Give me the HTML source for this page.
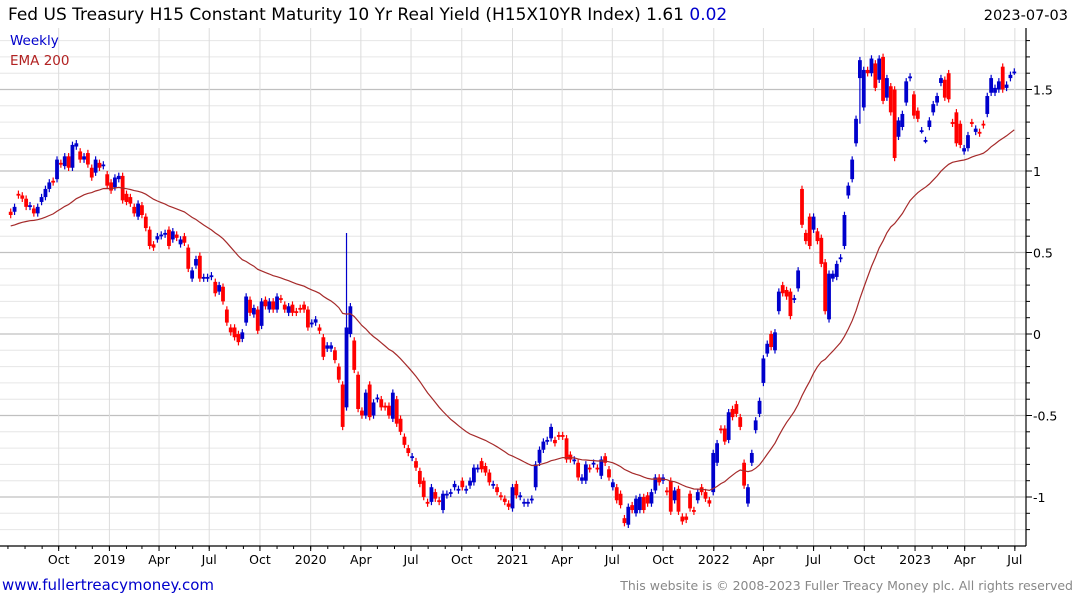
<!DOCTYPE html>
<html><head><meta charset="utf-8">
<style>
body{margin:0;background:#fff;font-family:"DejaVu Sans",sans-serif;}
#wrap{position:relative;width:1075px;height:600px;overflow:hidden;}
svg text{font-family:"DejaVu Sans","Liberation Sans",sans-serif;}
</style></head>
<body>
<div id="wrap">
<svg id="chart" width="1075" height="600">
<g id="grid"></g>
<g id="marks"></g>
<g id="ema"></g>
<g id="axes"></g>
<text x="8" y="20" font-size="17" fill="#000">Fed US Treasury H15 Constant Maturity 10 Yr Real Yield (H15X10YR Index) 1.61 <tspan fill="#0000cc">0.02</tspan></text>
<text x="1068" y="20" font-size="14.5" fill="#000" text-anchor="end">2023-07-03</text>
<text x="10" y="45" font-size="13.5" fill="#0000cc">Weekly</text>
<text x="10" y="65" font-size="13.5" fill="#b22222">EMA 200</text>
<text x="2" y="590" font-size="15" fill="#0000cc">www.fullertreacymoney.com</text>
<text x="1073" y="590" font-size="12.5" fill="#888" text-anchor="end">This website is © 2008-2023 Fuller Treacy Money plc. All rights reserved</text>
</svg>
</div>
<script>
const opens=[0.75,0.75,0.86,0.85,0.83,0.78,0.77,0.74,0.81,0.84,0.89,0.94,0.95,1.05,1.03,1.09,1.02,1.15,1.12,1.07,1.11,1.02,0.99,1.05,1.03,0.98,0.93,0.90,0.95,0.97,0.86,0.84,0.78,0.72,0.79,0.72,0.64,0.55,0.58,0.60,0.61,0.64,0.58,0.61,0.55,0.60,0.53,0.34,0.42,0.48,0.34,0.34,0.35,0.32,0.26,0.29,0.15,0.04,0.04,0.00,-0.03,0.07,0.21,0.12,0.15,0.05,0.21,0.15,0.20,0.15,0.22,0.18,0.13,0.18,0.14,0.16,0.18,0.15,0.06,0.07,0.04,-0.02,-0.09,-0.09,-0.10,
-0.20,-0.31,-0.45,0.00,-0.04,-0.25,-0.47,-0.50,-0.31,-0.50,-0.40,-0.40,-0.44,-0.44,-0.52,-0.40,-0.52,-0.63,-0.70,-0.76,-0.78,-0.84,-0.90,-1.03,-1.03,-0.97,-1.02,-1.08,-0.99,-0.98,-0.94,-0.96,-0.90,-0.96,-0.93,-0.91,-0.83,-0.78,-0.81,-0.85,-0.93,-0.94,-0.99,-1.01,-1.04,-1.07,-0.92,-1.00,-1.04,-1.04,-1.02,-0.94,-0.79,-0.71,-0.66,-0.64,-0.65,-0.62,-0.62,-0.64,-0.74,-0.78,-0.79,-0.90,-0.90,-0.82,-0.80,-0.82,-0.87,-0.75,-0.83,-0.94,-0.94,-0.98,-1.13,-1.17,-1.05,-1.10,-1.08,-1.00,-0.99,-1.04,-0.96,-0.88,-0.90,-0.96,-0.90,-1.02,-0.95,-1.12,-1.12,-0.98,-1.08,-1.02,-0.94,-0.97,-1.02,-0.97,-0.79,
-0.58,-0.58,-0.65,-0.46,-0.43,-0.51,-0.79,-1.04,-0.79,-0.59,-0.49,-0.30,-0.12,0.00,-0.10,0.14,0.30,0.27,0.26,0.21,0.28,0.89,0.62,0.72,0.64,0.63,0.59,0.44,0.09,0.34,0.35,0.46,0.54,0.85,0.95,1.17,1.57,1.39,1.62,1.60,1.66,1.56,1.70,1.45,1.52,1.50,1.21,1.27,1.42,1.57,1.47,1.37,1.25,1.19,1.27,1.36,1.42,1.54,1.56,1.60,1.30,1.36,1.29,1.12,1.14,1.30,1.24,1.24,1.29,1.35,1.48,1.48,1.50,1.64,1.51,1.57,1.61];
const closes=[0.73,0.78,0.85,0.83,0.78,0.79,0.74,0.78,0.84,0.89,0.93,0.93,1.07,1.04,1.09,1.02,1.16,1.17,1.07,1.09,1.04,0.96,1.07,1.02,1.04,0.91,0.88,0.96,0.97,0.82,0.81,0.80,0.74,0.80,0.73,0.65,0.54,0.53,0.60,0.61,0.62,0.54,0.63,0.59,0.58,0.56,0.40,0.39,0.46,0.34,0.35,0.35,0.36,0.25,0.30,0.20,0.07,0.01,-0.02,-0.05,0.01,0.23,0.13,0.16,0.02,0.20,0.17,0.20,0.15,0.23,0.21,0.15,0.17,0.13,0.13,0.15,0.15,0.04,0.07,0.09,0.02,-0.14,-0.07,-0.07,-0.16,
-0.28,-0.57,0.04,0.17,-0.22,-0.46,-0.50,-0.36,-0.51,-0.42,-0.39,-0.45,-0.45,-0.50,-0.36,-0.55,-0.60,-0.68,-0.73,-0.75,-0.82,-0.92,-1.00,-1.04,-0.94,-1.01,-1.03,-0.98,-0.98,-0.97,-0.92,-0.95,-0.94,-0.95,-0.90,-0.82,-0.82,-0.83,-0.85,-0.91,-0.92,-0.97,-1.00,-1.03,-1.06,-0.94,-0.99,-0.99,-1.03,-1.03,-1.01,-0.80,-0.71,-0.66,-0.65,-0.57,-0.67,-0.63,-0.63,-0.77,-0.77,-0.77,-0.88,-0.88,-0.80,-0.83,-0.79,-0.83,-0.77,-0.79,-0.88,-0.91,-1.02,-1.05,-1.16,-1.06,-1.08,-1.01,-1.00,-1.08,-1.04,-0.97,-0.88,-0.91,-0.88,-0.97,-1.09,-0.96,-1.09,-1.15,-1.14,-1.07,-1.09,-0.97,-0.97,-1.01,-1.04,-0.73,-0.67,
-0.59,-0.66,-0.48,-0.51,-0.49,-0.57,-0.93,-0.94,-0.73,-0.53,-0.41,-0.15,-0.06,-0.08,0.01,0.26,0.25,0.23,0.11,0.22,0.39,0.67,0.57,0.54,0.72,0.57,0.43,0.14,0.37,0.37,0.43,0.47,0.73,0.91,1.07,1.32,1.68,1.62,1.60,1.69,1.51,1.69,1.43,1.57,1.36,1.08,1.31,1.35,1.55,1.58,1.34,1.32,1.25,1.19,1.31,1.41,1.46,1.57,1.45,1.44,1.29,1.17,1.16,1.14,1.22,1.29,1.26,1.23,1.28,1.46,1.57,1.51,1.55,1.50,1.53,1.59,1.61];
const wickHighIdx=[87];
const wickHighVal=[0.62];
const wickLowIdx=[220];
const wickLowVal=[1.29];
const emaStart=0.66;
const emaPeriod=40;
const yTicks=[-1,-0.5,0,0.5,1,1.5];
const yTickLabels=["-1","-0.5","0","0.5","1","1.5"];
const startDate="2018-07-06";
const xTickDates=["2018-10-01","2019-01-01","2019-04-01","2019-07-01","2019-10-01","2020-01-01","2020-04-01","2020-07-01","2020-10-01","2021-01-01","2021-04-01","2021-07-01","2021-10-01","2022-01-01","2022-04-01","2022-07-01","2022-10-01","2023-01-01","2023-04-01","2023-07-01"];
const xTickLabels=["Oct","2019","Apr","Jul","Oct","2020","Apr","Jul","Oct","2021","Apr","Jul","Oct","2022","Apr","Jul","Oct","2023","Apr","Jul"];

const NS="http://www.w3.org/2000/svg";
const PL=0,PR=1026,PT=28,PB=546;
const X0=10.7,STEP=3.86;
function xScale(i){return X0+i*STEP;}
function yScale(v){return 334-v*163;}
function dateToIdx(d){return (new Date(d)-new Date(startDate))/(7*864e5);}
function mk(tag,attrs,parent){const e=document.createElementNS(NS,tag);for(const k in attrs)e.setAttribute(k,attrs[k]);parent.appendChild(e);return e;}
const grid=document.getElementById('grid'),marks=document.getElementById('marks'),emaG=document.getElementById('ema'),axes=document.getElementById('axes');

for(let k=-12;k<=18;k++){const v=k/10;const y=yScale(v);if(y<PT||y>PB)continue;
 const major=(k%5===0);
 const l=mk('line',{x1:PL,x2:PR,y1:y,y2:y,stroke:major?'#c0c0c0':'#e6e6e6','stroke-width':major?1.3:1},grid);
 
 
}
xTickDates.forEach((d,j)=>{const x=xScale(dateToIdx(d));
 const l=mk('line',{x1:x,x2:x,y1:PT,y2:PB,stroke:'#dcdcdc','stroke-width':1},grid);
 
 
 const t=mk('line',{x1:x,x2:x,y1:PB,y2:PB+5,stroke:'#000'},axes);
 
 
 const tx=mk('text',{x:x,y:564,'font-size':12.5,'text-anchor':'middle',fill:'#000'},axes);
 tx.textContent=xTickLabels[j];
 
 
});
for(let m=0;m<62;m++){const dt=new Date(Date.UTC(2018,6+m,1));const x=xScale(dateToIdx(dt.toISOString().slice(0,10)));if(x<PL||x>PR)continue;
 const t=mk('line',{x1:x,x2:x,y1:PB,y2:PB+3,stroke:'#000'},axes);
 
 
}
let a=mk('line',{x1:PL,x2:PR,y1:PB,y2:PB,stroke:'#000','stroke-width':1.2},axes);


a=mk('line',{x1:PR,x2:PR,y1:PT,y2:PB,stroke:'#000','stroke-width':1.2},axes);


for(let k=-12;k<=18;k++){const y=yScale(k/10);if(y<PT||y>PB)continue;
 const t=mk('line',{x1:PR,x2:PR+(k%5===0?6:4),y1:y,y2:y,stroke:'#000'},axes);
 
 
}
yTicks.forEach((v,j)=>{const t=mk('text',{x:1033,y:yScale(v)+5,'font-size':12.5,fill:'#000'},axes);
 t.textContent=yTickLabels[j];
 
 
});
for(let i=0;i<closes.length;i++){
 const o=opens[i],c=closes[i],up=c>=o,col=up?'#0000cc':'#ff0000';
 const x=xScale(i);
 let hi=Math.max(o,c)+0.02,lo=Math.min(o,c)-0.02;
 const hIdx=wickHighIdx.indexOf(i);if(hIdx>=0)hi=wickHighVal[hIdx];
 const lIdx=wickLowIdx.indexOf(i);if(lIdx>=0)lo=wickLowVal[lIdx];
 const w=mk('line',{x1:x,x2:x,y1:yScale(hi),y2:yScale(lo),stroke:col,'stroke-width':1.2},marks);
 
 
 const yt=yScale(Math.max(o,c)),yb=yScale(Math.min(o,c));
 const r=mk('rect',{x:x-1.9,y:yt,width:3.8,height:Math.max(1.8,yb-yt),fill:col},marks);
 
 
}
let e=emaStart,k=2/(emaPeriod+1),pts=[];
for(let i=0;i<closes.length;i++){e=closes[i]*k+e*(1-k);pts.push(xScale(i).toFixed(1)+','+yScale(e).toFixed(1));}
const pl=mk('polyline',{points:pts.join(' '),fill:'none',stroke:'#a52a2a','stroke-width':1.2},emaG);


</script>
</body></html>
